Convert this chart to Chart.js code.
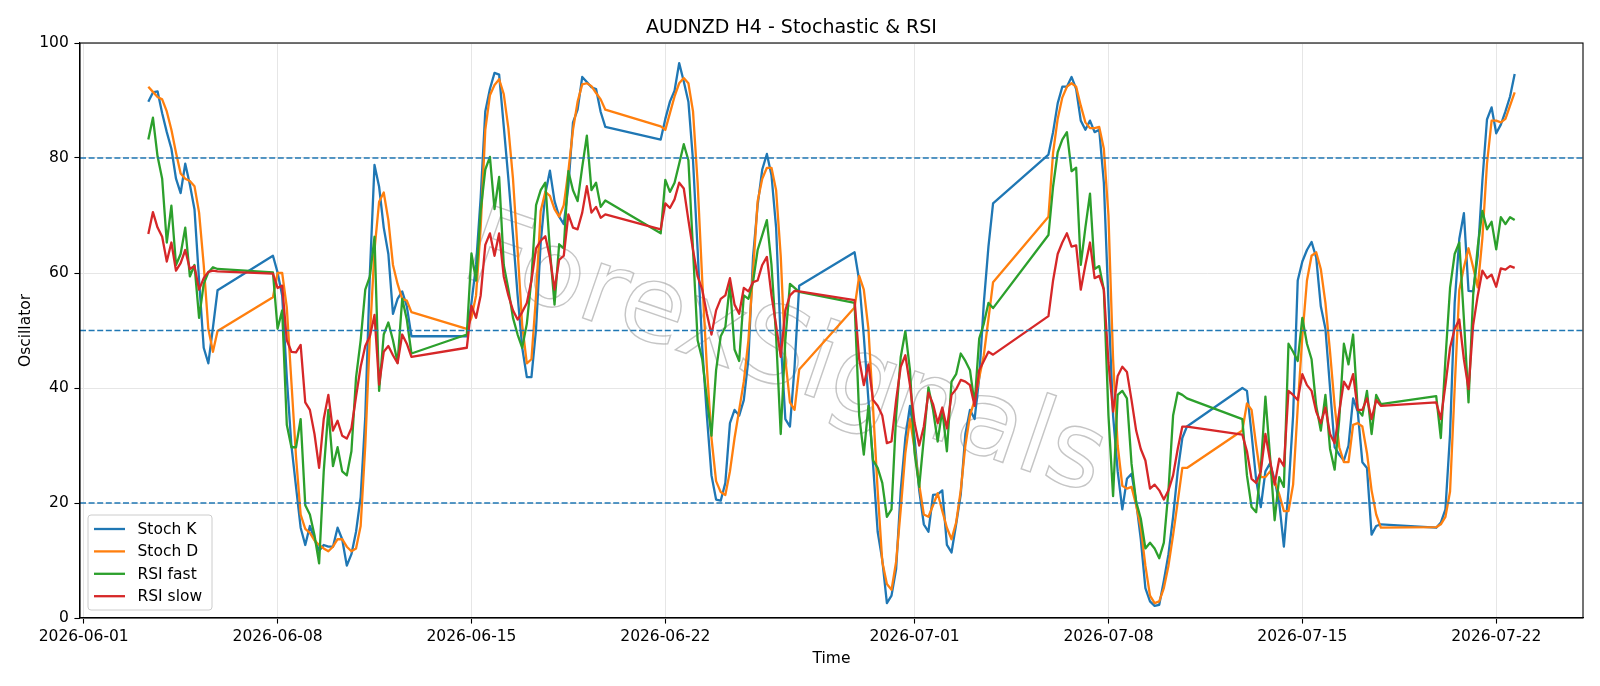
<!DOCTYPE html>
<html>
<head>
<meta charset="utf-8">
<title>AUDNZD H4 - Stochastic &amp; RSI</title>
<script src="https://cdn.jsdelivr.net/npm/chart.js@4.4.1/dist/chart.umd.min.js"></script>
<style>
  html, body { margin: 0; padding: 0; background: #fff; }
  #wrap { width: 1600px; height: 686px; }
</style>
</head>
<body>
<div id="wrap"><canvas id="chart"></canvas></div>
<script>
// --- DATA ---
// H4 bars, grouped in trading sessions (Sunday 20:00 -> Friday 20:00)
const originDate = '2026-06-01T00:00';
const sessionStarts = ['2026-06-03T08:00', '2026-06-07T20:00', '2026-06-14T20:00', '2026-06-21T20:00',
                       '2026-06-28T20:00', '2026-07-05T20:00', '2026-07-12T20:00', '2026-07-19T20:00'];
const sessionBars = [16, 31, 31, 31, 31, 31, 31, 18];

const stochK = [
  89.8, 91.4, 91.6, 87.8, 84.5, 81.6, 76.4, 73.9, 79.0, 75.4, 71.1, 58.7, 47.0, 44.3, 50.5, 57.0,
  63.0, 60.1, 56.1, 41.8, 30.0, 22.8, 15.7, 12.7, 16.0, 13.7, 11.7, 12.7, 12.4, 12.4, 15.7, 13.7, 9.1, 11.1, 15.0, 21.0, 35.0, 60.0, 78.8, 75.0, 67.9, 63.3, 52.9, 55.5, 56.8, 54.2, 49.0,
  49.0, 54.8, 61.4, 73.1, 88.1, 92.0, 94.8, 94.5, 85.5, 76.4, 66.6, 56.1, 47.0, 41.9, 41.9, 50.3, 65.3, 73.8, 77.8, 72.5, 69.8, 68.5, 75.1, 86.2, 88.4, 94.1, 93.2, 92.3, 92.0, 88.0, 85.4,
  83.2, 86.8, 89.8, 91.7, 96.5, 93.3, 89.8, 79.6, 64.0, 47.0, 35.2, 24.8, 20.6, 20.4, 23.5, 33.9, 36.2, 35.2, 37.9, 45.0, 62.7, 71.8, 78.0, 80.7, 77.0, 67.9, 48.3, 34.6, 33.3, 43.7, 57.8,
  63.6, 58.7, 49.0, 37.9, 26.8, 15.0, 10.1, 2.6, 3.9, 8.5, 22.2, 31.3, 36.9, 31.3, 22.2, 16.3, 15.0, 21.4, 21.5, 22.2, 12.7, 11.4, 16.3, 21.5, 32.0, 36.2, 34.6, 41.8, 54.8, 64.6, 72.1,
  80.6, 84.5, 89.5, 92.4, 92.4, 94.1, 92.0, 86.5, 84.9, 86.5, 84.5, 84.9, 75.7, 54.8, 35.2, 25.5, 18.9, 24.2, 25.1, 20.2, 13.7, 5.2, 2.9, 2.1, 2.3, 6.5, 11.1, 17.6, 25.5, 31.3, 33.3,
  40.0, 39.5, 32.0, 24.0, 19.3, 25.5, 26.9, 24.0, 20.0, 12.4, 22.2, 35.2, 58.7, 62.0, 64.0, 65.4, 62.7, 54.2, 50.3, 40.0, 29.7, 28.4, 27.4, 30.0, 38.2, 35.9, 27.1, 26.1, 14.5, 16.0, 16.3,
  15.7, 16.6, 18.9, 32.0, 54.8, 65.9, 70.4, 56.9, 56.8, 63.0, 76.0, 86.7, 88.8, 84.3, 85.8, 88.1, 90.7, 94.6
];
const stochD = [
  92.4, 91.5, 90.6, 90.2, 88.1, 84.9, 80.9, 77.3, 76.4, 76.0, 75.1, 70.5, 61.4, 50.3, 46.3, 49.9,
  55.8, 60.0, 60.0, 54.0, 41.0, 28.0, 18.0, 15.5, 14.8, 13.5, 12.7, 12.1, 11.6, 12.4, 13.7, 13.7, 12.4, 11.6, 12.1, 16.0, 30.0, 49.0, 64.0, 72.4, 74.0, 69.2, 61.4, 58.1, 55.5, 55.2, 53.2,
  50.3, 52.2, 56.1, 67.9, 84.9, 90.9, 92.7, 93.7, 91.1, 85.2, 76.4, 64.0, 50.9, 44.3, 45.0, 56.1, 70.8, 74.1, 73.4, 71.1, 69.8, 71.8, 77.7, 84.9, 89.8, 92.8, 93.0, 92.5, 91.3, 90.2, 88.4,
  85.5, 84.9, 87.8, 90.7, 93.0, 93.9, 93.0, 88.1, 75.7, 58.7, 43.7, 31.3, 23.8, 21.9, 21.4, 25.5, 31.3, 36.2, 41.1, 48.3, 60.1, 72.5, 76.4, 78.3, 78.3, 74.4, 63.0, 45.0, 37.5, 36.2, 43.2,
  54.0, 59.5, 57.1, 50.3, 36.6, 22.2, 9.8, 5.9, 4.9, 9.8, 18.9, 28.7, 34.6, 29.4, 23.2, 18.0, 17.6, 19.6, 21.7, 18.6, 15.7, 13.7, 16.6, 22.2, 30.0, 35.2, 37.9, 41.8, 45.7, 52.0, 58.4,
  69.8, 80.9, 86.8, 90.5, 92.4, 93.0, 92.4, 89.1, 86.2, 85.2, 85.2, 85.4, 81.6, 70.0, 45.0, 30.0, 23.0, 22.5, 22.8, 19.6, 15.7, 9.1, 3.9, 2.6, 2.9, 5.2, 9.1, 14.4, 20.2, 26.1, 26.1,
  32.6, 37.3, 36.2, 30.0, 24.5, 24.5, 25.5, 23.8, 21.5, 18.6, 18.6, 23.2, 36.6, 49.0, 58.7, 63.0, 63.6, 60.7, 54.8, 46.3, 36.9, 29.7, 27.1, 27.1, 33.6, 33.9, 33.3, 28.7, 22.2, 18.0, 15.7,
  15.8, 16.3, 17.6, 22.0, 40.0, 57.0, 61.0, 64.3, 61.0, 57.5, 66.0, 79.0, 86.5, 86.5, 86.2, 86.8, 89.1, 91.4
];
const rsiFast = [
  83.2, 87.0, 80.3, 76.4, 65.3, 71.7, 61.4, 63.3, 67.9, 59.4, 61.4, 52.2, 58.1, 60.1, 61.0, 60.7,
  60.1, 50.3, 53.5, 33.6, 29.7, 29.7, 34.6, 19.6, 18.0, 14.4, 9.5, 25.5, 36.2, 26.4, 29.7, 25.5, 24.8, 29.0, 41.8, 48.3, 57.1, 59.4, 66.3, 39.5, 49.3, 51.4, 48.3, 44.4, 55.5, 51.9, 46.0,
  49.3, 63.4, 58.7, 70.8, 78.0, 80.2, 71.1, 76.7, 61.4, 57.2, 52.2, 49.3, 47.0, 51.2, 59.0, 71.8, 74.4, 75.7, 64.0, 54.5, 65.0, 64.3, 77.7, 74.4, 72.5, 78.4, 83.9, 74.4, 75.7, 71.5, 72.6,
  66.9, 76.2, 74.1, 75.7, 79.0, 82.4, 79.6, 64.0, 48.3, 45.0, 38.2, 31.7, 43.1, 49.0, 50.6, 58.1, 46.7, 44.7, 56.1, 55.5, 58.4, 64.0, 66.6, 69.2, 61.4, 49.0, 32.0, 48.3, 58.1, 57.4, 56.7,
  54.8, 35.2, 28.4, 36.9, 27.4, 26.1, 23.5, 17.6, 18.9, 35.2, 45.4, 49.9, 43.1, 28.7, 22.8, 31.3, 40.1, 36.2, 30.7, 36.2, 29.0, 41.1, 42.4, 46.0, 44.7, 43.1, 37.2, 48.6, 51.2, 54.8, 53.9,
  66.6, 75.0, 81.0, 83.2, 84.5, 77.7, 78.3, 61.4, 67.9, 73.8, 60.7, 61.2, 57.1, 35.2, 21.2, 38.8, 39.5, 38.2, 26.8, 20.2, 17.3, 12.1, 13.1, 12.1, 10.4, 13.1, 22.2, 35.2, 39.2, 38.8, 38.2,
  34.6, 24.8, 19.3, 18.4, 26.0, 38.5, 28.1, 17.0, 24.5, 22.8, 47.7, 46.3, 44.7, 52.2, 47.7, 45.0, 36.9, 32.6, 38.8, 29.4, 25.8, 34.6, 47.7, 44.1, 49.3, 36.2, 35.2, 39.5, 32.0, 38.8, 37.2,
  38.6, 31.3, 45.0, 57.4, 63.3, 65.3, 52.0, 37.5, 56.1, 64.6, 70.8, 67.6, 68.9, 64.1, 69.7, 68.5, 69.7, 69.2
];
const rsiSlow = [
  66.8, 70.6, 67.9, 66.3, 62.0, 65.3, 60.4, 61.7, 64.0, 60.7, 61.2, 57.1, 59.1, 60.2, 60.4, 60.3,
  59.9, 57.4, 57.8, 48.3, 46.3, 46.2, 47.5, 37.5, 36.2, 32.0, 26.1, 34.6, 38.8, 32.6, 34.3, 31.7, 31.2, 33.0, 38.5, 43.7, 47.3, 49.0, 52.7, 40.6, 46.3, 47.3, 45.7, 44.3, 49.3, 47.7, 45.4,
  47.0, 54.3, 52.2, 56.1, 64.9, 66.9, 63.0, 66.9, 59.4, 56.1, 53.5, 51.9, 53.2, 54.8, 58.7, 64.3, 65.6, 66.4, 62.7, 57.1, 62.3, 63.0, 70.2, 67.9, 67.6, 70.5, 75.1, 70.5, 71.5, 69.6, 70.2,
  67.6, 72.1, 71.3, 72.8, 75.7, 74.7, 69.2, 64.0, 59.4, 57.1, 52.9, 49.3, 53.5, 55.5, 56.1, 59.1, 54.5, 52.9, 57.4, 56.8, 58.4, 58.7, 61.4, 62.8, 56.1, 50.9, 45.4, 53.5, 56.1, 56.9, 56.8,
  55.3, 45.0, 40.5, 44.1, 37.9, 36.9, 35.2, 30.4, 30.7, 37.9, 43.7, 45.7, 40.5, 33.9, 30.0, 33.3, 39.2, 37.2, 33.9, 36.6, 33.0, 38.8, 39.8, 41.4, 41.1, 40.5, 36.9, 43.1, 44.7, 46.3, 45.8,
  52.5, 58.7, 63.3, 65.3, 66.9, 64.6, 64.8, 57.1, 61.4, 65.3, 59.1, 59.5, 57.1, 44.4, 35.9, 42.1, 43.7, 42.8, 37.9, 32.6, 29.4, 27.4, 22.5, 23.2, 22.2, 20.6, 22.2, 24.8, 29.4, 33.3, 33.3,
  31.9, 29.0, 24.2, 23.5, 25.5, 32.0, 27.4, 23.2, 27.7, 26.4, 39.5, 38.8, 37.9, 42.4, 40.5, 39.5, 35.9, 33.9, 36.6, 32.0, 30.4, 35.9, 41.1, 39.8, 42.4, 36.2, 36.2, 38.2, 34.6, 37.9, 36.9,
  37.5, 34.6, 40.5, 47.0, 50.3, 51.9, 45.0, 39.8, 50.9, 56.1, 60.4, 59.1, 59.7, 57.6, 60.8, 60.6, 61.2, 60.9
];

const levels = [20, 50, 80];
const tickDays = [0, 7, 14, 21, 30, 37, 44, 51];
const tickLabels = ['2026-06-01', '2026-06-08', '2026-06-15', '2026-06-22', '2026-07-01', '2026-07-08', '2026-07-15', '2026-07-22'];

// --- TIME AXIS (days since 2026-06-01) ---
const DAY = 86400000;
const origin = Date.parse(originDate + ':00Z');
const times = [];
sessionStarts.forEach((start, i) => {
    const t0 = (Date.parse(start + ':00Z') - origin) / DAY;
    for (let k = 0; k < sessionBars[i]; k++) times.push(t0 + k * 4 / 24);
});
const span = times[times.length - 1] - times[0];
const xMin = times[0] - 0.05 * span;
const xMax = times[times.length - 1] + 0.05 * span;

const toPoints = values => values.map((v, i) => ({ x: times[i], y: v }));

const FONT = 'DejaVu Sans';
Chart.defaults.font.family = FONT;
Chart.defaults.font.size = 15.5;
Chart.defaults.color = '#000';

const series = [
    { label: 'Stoch K', data: stochK, color: '#1f77b4' },
    { label: 'Stoch D', data: stochD, color: '#ff7f0e' },
    { label: 'RSI fast', data: rsiFast, color: '#2ca02c' },
    { label: 'RSI slow', data: rsiSlow, color: '#d62728' },
];

const datasets = series.map((s, i) => ({
    label: s.label,
    data: toPoints(s.data),
    borderColor: s.color,
    backgroundColor: s.color,
    borderWidth: 2.3,
    borderJoinStyle: 'round',
    pointRadius: 0,
    tension: 0,
    order: 10 - i,
}));
levels.forEach(lv => {
    datasets.push({
        label: '',
        isLevel: true,
        data: [{ x: xMin, y: lv }, { x: xMax, y: lv }],
        borderColor: '#1f77b4',
        borderWidth: 1.5,
        borderDash: [6, 2.6],
        pointRadius: 0,
        order: 0,
    });
});

// watermark behind the lines
const watermark = {
    id: 'watermark',
    beforeDatasetsDraw(chart) {
        const { ctx } = chart;
        ctx.save();
        ctx.translate(784, 358);
        ctx.rotate(19 * Math.PI / 180);
        ctx.font = `106px ${FONT}`;
        ctx.textAlign = 'center';
        ctx.textBaseline = 'middle';
        ctx.strokeStyle = 'rgba(150,150,150,0.55)';
        ctx.lineWidth = 1.4;
        ctx.strokeText('ForexSignals', 0, 0);
        ctx.restore();
    }
};

// full box around the axes, like the matplotlib spines
const frame = {
    id: 'frame',
    afterDatasetsDraw(chart) {
        const { ctx, chartArea: a } = chart;
        ctx.save();
        ctx.strokeStyle = '#000';
        ctx.lineWidth = 1.1;
        ctx.strokeRect(a.left, a.top, a.right - a.left, a.bottom - a.top);
        ctx.restore();
    }
};

// legend in the lower left corner of the plot
const cornerLegend = {
    id: 'cornerLegend',
    afterDraw(chart) {
        const { ctx, chartArea: a } = chart;
        const items = chart.data.datasets.filter(d => !d.isLevel);
        const boxX = a.left + 8, boxW = 124, boxH = 95;
        const boxY = a.bottom - 8 - boxH;
        ctx.save();
        ctx.beginPath();
        ctx.roundRect(boxX, boxY, boxW, boxH, 3);
        ctx.fillStyle = 'rgba(255,255,255,0.8)';
        ctx.fill();
        ctx.strokeStyle = '#cccccc';
        ctx.lineWidth = 1;
        ctx.stroke();
        ctx.font = `15.5px ${FONT}`;
        ctx.textBaseline = 'middle';
        ctx.textAlign = 'left';
        items.forEach((d, i) => {
            const y = boxY + 14 + i * 22.4;
            ctx.beginPath();
            ctx.moveTo(boxX + 6, y);
            ctx.lineTo(boxX + 37, y);
            ctx.strokeStyle = d.borderColor;
            ctx.lineWidth = 2.3;
            ctx.stroke();
            ctx.fillStyle = '#000';
            ctx.fillText(d.label, boxX + 49.5, y + 1);
        });
        ctx.restore();
    }
};

new Chart(document.getElementById('chart'), {
    type: 'line',
    data: { datasets },
    plugins: [watermark, frame, cornerLegend],
    options: {
        responsive: true,
        maintainAspectRatio: false,
        devicePixelRatio: 1,
        animation: false,
        events: [],
        layout: { padding: { left: 0, right: 17, top: 0, bottom: 0 } },
        plugins: {
            legend: { display: false },
            tooltip: { enabled: false },
            title: {
                display: true,
                text: 'AUDNZD H4 - Stochastic & RSI',
                color: '#000',
                font: { size: 19, weight: 'normal', family: FONT },
                padding: { top: 16.5, bottom: 3.7 }
            }
        },
        scales: {
            x: {
                type: 'linear',
                min: xMin,
                max: xMax,
                afterBuildTicks: scale => { scale.ticks = tickDays.map(v => ({ value: v })); },
                afterFit: scale => { scale.height = 68; },
                ticks: {
                    autoSkip: false,
                    maxRotation: 0,
                    padding: 4,
                    callback: value => tickLabels[tickDays.indexOf(value)]
                },
                grid: { color: '#e6e6e6', lineWidth: 1, tickColor: '#000', tickLength: 5.6, tickWidth: 1.1 },
                border: { color: '#000', width: 1.1 },
                title: { display: true, text: 'Time', padding: { top: 0, bottom: 17.5 } }
            },
            y: {
                min: 0,
                max: 100,
                afterFit: scale => { scale.width = 80; },
                ticks: { stepSize: 20, padding: 5.6 },
                grid: { color: '#e6e6e6', lineWidth: 1, tickColor: '#000', tickLength: 5.6, tickWidth: 1.1 },
                border: { color: '#000', width: 1.1 },
                title: { display: true, text: 'Oscillator', padding: { top: 16.5, bottom: 0 } }
            }
        }
    }
});
</script>
</body>
</html>
